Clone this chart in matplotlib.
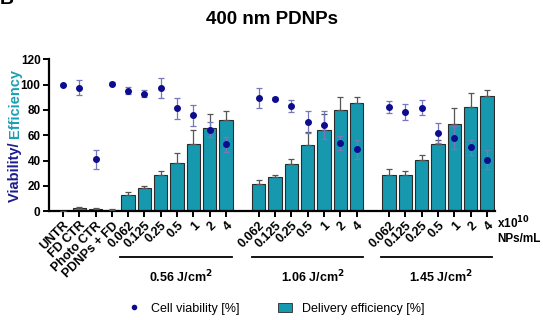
import matplotlib.pyplot as plt
from matplotlib.lines import Line2D
from matplotlib.patches import Patch

plt.rcParams['font.family'] = ['Liberation Sans', 'DejaVu Sans']

# categories
controls = ['UNTR', 'FD CTR', 'Photo CTR', 'PDNPs + FD']
doses = ['0.062', '0.125', '0.25', '0.5', '1', '2', '4']
fluences = ['0.56 J/cm$^{\\mathbf{2}}$', '1.06 J/cm$^{\\mathbf{2}}$', '1.45 J/cm$^{\\mathbf{2}}$']

# delivery efficiency (bars) and sd
eff_ctrl = [0, 2.7, 2, 1]
eff_ctrl_err = [0, 0.6, 0.5, 0.4]
eff_g1 = [13, 18.7, 28.5, 38, 53, 65.7, 72.3]
eff_g1_err = [2, 1, 3, 8, 11, 11, 7]
eff_g2 = [21.4, 26.7, 37.5, 52, 64.4, 80.2, 85.5]
eff_g2_err = [3.4, 1.5, 3.4, 10.5, 12, 10, 5]
eff_g3 = [28.2, 28.8, 40.6, 53.3, 69.1, 82.3, 91]
eff_g3_err = [5, 2.8, 3.7, 3, 12, 11, 5]

# cell viability (points) and sd
via_ctrl = [100, 97.6, 41.1, 100.8]
via_ctrl_err = [0, 6, 7.5, 1]
via_g1 = [95.2, 92.9, 97, 81.2, 75.7, 64.4, 52.8]
via_g1_err = [3, 3, 8, 8.5, 8.5, 6, 6]
via_g2 = [89.4, 88.9, 83.1, 70.4, 67.8, 54.1, 48.8]
via_g2_err = [8, 1.5, 5, 8.7, 11, 5.5, 7.5]
via_g3 = [82.3, 78.3, 81.8, 62, 58, 50.4, 40.6]
via_g3_err = [4.5, 6.5, 6, 8, 9, 6, 7.5]

# x positions: controls + 3 dose groups with one empty slot between groups
pos = list(range(0, 11)) + list(range(12, 19)) + list(range(20, 27))
labels = controls + doses * 3
eff = eff_ctrl + eff_g1 + eff_g2 + eff_g3
eff_err = eff_ctrl_err + eff_g1_err + eff_g2_err + eff_g3_err
via = via_ctrl + via_g1 + via_g2 + via_g3
via_err = via_ctrl_err + via_g1_err + via_g2_err + via_g3_err

bar_col = '#1699ae'
pt_col = '#0c0c8e'

fig = plt.figure(figsize=(5.43, 3.2), dpi=100)
ax = fig.add_axes([0.09, 0.34, 0.822, 0.475])

ax.bar(pos, eff, width=0.82, color=bar_col, edgecolor='#2b2b2b', linewidth=0.8, zorder=2)
ax.errorbar(pos, eff, yerr=[[0] * len(eff), eff_err], fmt='none', ecolor='#555555',
            elinewidth=0.9, capsize=2.5, capthick=0.9, zorder=3)
ax.errorbar(pos, via, yerr=via_err, fmt='o', color=pt_col, markersize=4,
            ecolor='#7777bb', elinewidth=0.9, capsize=2.5, capthick=0.9, zorder=4)

ax.set_xlim(-0.86, 26.5)
ax.set_ylim(0, 120)
ax.set_yticks(range(0, 121, 20))
ax.set_xticks(pos)
ax.set_xticklabels(labels, rotation=45, ha='right', rotation_mode='anchor',
                   fontsize=9, fontweight='bold')
for t in ax.get_yticklabels():
    t.set_fontweight('bold')
    t.set_fontsize(8.5)
ax.spines['top'].set_visible(False)
ax.spines['right'].set_visible(False)
ax.spines['left'].set_linewidth(1.6)
ax.spines['bottom'].set_linewidth(1.6)
ax.tick_params(axis='both', width=1.4, length=4, pad=2)

# group brackets under the dose labels
groups = [(3.52, 10.37), (11.6, 18.4), (19.5, 26.3)]
trans = ax.get_xaxis_transform()
for (x0, x1), lab in zip(groups, fluences):
    ax.plot([x0, x1], [-0.3, -0.3], color='black', lw=1.3, transform=trans, clip_on=False)
    ax.text((x0 + x1) / 2 + 0.3, -0.43, lab, transform=trans, ha='center', va='center',
            fontsize=9, fontweight='bold')

ax.text(1.005, -0.025, 'x10$^{\\mathbf{10}}$\nNPs/mL', transform=ax.transAxes, ha='left',
        va='top', fontsize=8.5, fontweight='bold', linespacing=1.2)

fig.text(0.5, 0.94, '400 nm PDNPs', ha='center', va='center', fontsize=13.5, fontweight='bold')
# panel letter, mostly cropped off as in the source figure
fig.text(0.0, 1.0, 'B', ha='left', va='center', fontsize=14, fontweight='bold')

# two-coloured y label, second part placed right after the first
lab_x = 15 / 543
lab_bottom = (320 - 201.7) / 320
t1 = fig.text(lab_x, lab_bottom, 'Viability/ ', rotation=90, ha='center', va='bottom',
              fontsize=10.5, fontweight='bold', color='#1c1c8c')
fig.canvas.draw()
bb = t1.get_window_extent().transformed(fig.transFigure.inverted())
fig.text(lab_x, bb.y1, 'Efficiency', rotation=90, ha='center', va='bottom',
         fontsize=10.5, fontweight='bold', color='#1aa0b4')

handles = [Line2D([], [], marker='o', ls='none', color=pt_col, markersize=3),
           Patch(facecolor=bar_col, edgecolor='#2b2b2b', linewidth=0.6)]
fig.legend(handles, ['Cell viability [%]', 'Delivery efficiency [%]'], loc='center',
           bbox_to_anchor=(0.508, 0.035), ncol=2, frameon=False, fontsize=9,
           columnspacing=3.1, handlelength=1.1, handletextpad=0.8)

fig.savefig('out.png', dpi=100)
